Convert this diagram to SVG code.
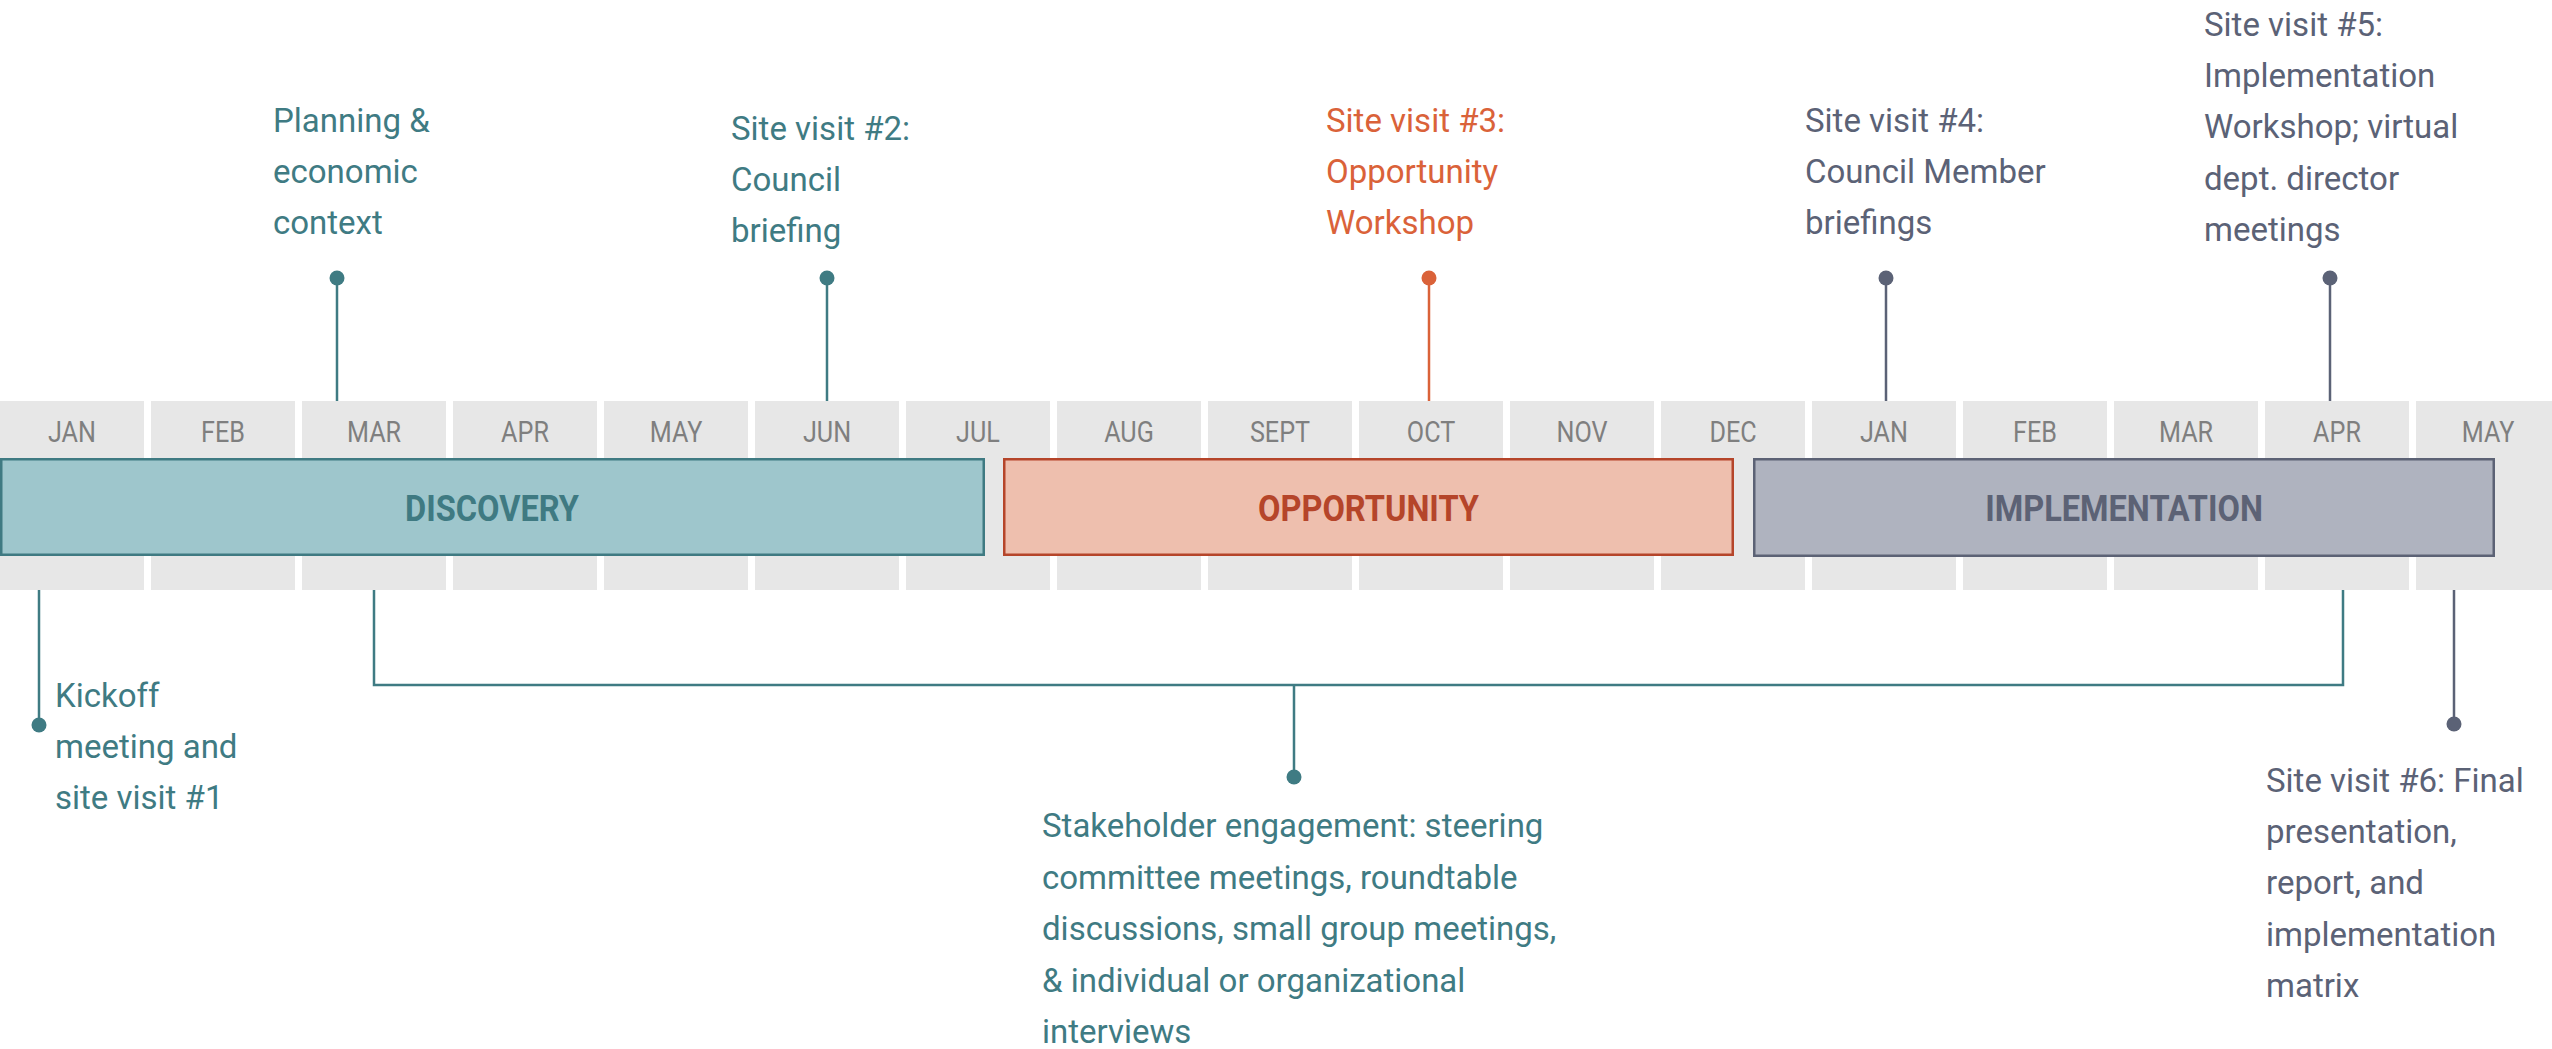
<svg xmlns="http://www.w3.org/2000/svg" width="2552" height="1049" viewBox="0 0 2552 1049">
<style>
.cell{fill:#E7E7E7}
.m{font-family:Roboto,"Liberation Sans",sans-serif;font-size:30px;font-weight:400;fill:#7F7F7F;text-anchor:middle}
.band{font-family:Roboto,"Liberation Sans",sans-serif;font-size:37px;font-weight:700;text-anchor:middle}
.t{font-family:Roboto,"Liberation Sans",sans-serif;font-size:33px}
.teal{fill:#3F7B83}
.orange{fill:#DA6239}
.slate{fill:#5B6276}
.ln{fill:none;stroke-width:2.5}
</style>
<rect width="2552" height="1049" fill="#FFFFFF"/>
<g id="months">
<rect class="cell" x="0" y="401" width="144" height="189"/>
<rect class="cell" x="151" y="401" width="144" height="189"/>
<rect class="cell" x="302" y="401" width="144" height="189"/>
<rect class="cell" x="453" y="401" width="144" height="189"/>
<rect class="cell" x="604" y="401" width="144" height="189"/>
<rect class="cell" x="755" y="401" width="144" height="189"/>
<rect class="cell" x="906" y="401" width="144" height="189"/>
<rect class="cell" x="1057" y="401" width="144" height="189"/>
<rect class="cell" x="1208" y="401" width="144" height="189"/>
<rect class="cell" x="1359" y="401" width="144" height="189"/>
<rect class="cell" x="1510" y="401" width="144" height="189"/>
<rect class="cell" x="1661" y="401" width="144" height="189"/>
<rect class="cell" x="1812" y="401" width="144" height="189"/>
<rect class="cell" x="1963" y="401" width="144" height="189"/>
<rect class="cell" x="2114" y="401" width="144" height="189"/>
<rect class="cell" x="2265" y="401" width="144" height="189"/>
<rect class="cell" x="2416" y="401" width="144" height="189"/>
<text class="m" transform="translate(72,442) scale(0.84,1)">JAN</text>
<text class="m" transform="translate(223,442) scale(0.84,1)">FEB</text>
<text class="m" transform="translate(374,442) scale(0.84,1)">MAR</text>
<text class="m" transform="translate(525,442) scale(0.84,1)">APR</text>
<text class="m" transform="translate(676,442) scale(0.84,1)">MAY</text>
<text class="m" transform="translate(827,442) scale(0.84,1)">JUN</text>
<text class="m" transform="translate(978,442) scale(0.84,1)">JUL</text>
<text class="m" transform="translate(1129,442) scale(0.84,1)">AUG</text>
<text class="m" transform="translate(1280,442) scale(0.84,1)">SEPT</text>
<text class="m" transform="translate(1431,442) scale(0.84,1)">OCT</text>
<text class="m" transform="translate(1582,442) scale(0.84,1)">NOV</text>
<text class="m" transform="translate(1733,442) scale(0.84,1)">DEC</text>
<text class="m" transform="translate(1884,442) scale(0.84,1)">JAN</text>
<text class="m" transform="translate(2035,442) scale(0.84,1)">FEB</text>
<text class="m" transform="translate(2186,442) scale(0.84,1)">MAR</text>
<text class="m" transform="translate(2337,442) scale(0.84,1)">APR</text>
<text class="m" transform="translate(2488,442) scale(0.84,1)">MAY</text>
</g>
<g id="discovery">
<rect x="1.25" y="459.25" width="982.5" height="95.5" fill="#9EC6CC" stroke="#3F7A82" stroke-width="2.5"/>
<text class="band" fill="#3F7A82" transform="translate(492,521) scale(0.88,1)">DISCOVERY</text>
</g>
<g id="opportunity">
<rect x="1004.25" y="459.25" width="728.5" height="95.5" fill="#EEBFAE" stroke="#B5452A" stroke-width="2.5"/>
<text class="band" fill="#B5452A" transform="translate(1368.5,521) scale(0.88,1)">OPPORTUNITY</text>
</g>
<g id="implementation">
<rect x="1754.25" y="459.25" width="739.5" height="96.5" fill="#AFB3BF" stroke="#5C6275" stroke-width="2.5"/>
<text class="band" fill="#5C6275" transform="translate(2124,521) scale(0.88,1)">IMPLEMENTATION</text>
</g>
<g id="connectors">
<line class="ln" stroke="#3F7B83" x1="337" y1="278" x2="337" y2="401"/>
<line class="ln" stroke="#3F7B83" x1="827" y1="278" x2="827" y2="401"/>
<line class="ln" stroke="#DA6239" x1="1429" y1="278" x2="1429" y2="401"/>
<line class="ln" stroke="#5B6276" x1="1886" y1="278" x2="1886" y2="401"/>
<line class="ln" stroke="#5B6276" x1="2330" y1="278" x2="2330" y2="401"/>
<line class="ln" stroke="#3F7B83" x1="39" y1="590" x2="39" y2="725"/>
<path class="ln" stroke="#3F7B83" d="M374 590 V685 H2343 V590 M1294 685 V777"/>
<line class="ln" stroke="#5B6276" x1="2454" y1="590" x2="2454" y2="724"/>
</g>
<g id="planning">
<circle class="teal" cx="337" cy="278" r="7.5"/>
<text class="t teal" x="273"><tspan x="273" y="132">Planning &amp;</tspan><tspan x="273" y="183">economic</tspan><tspan x="273" y="234">context</tspan></text>
</g>
<g id="site-visit-2">
<circle class="teal" cx="827" cy="278" r="7.5"/>
<text class="t teal"><tspan x="731" y="140">Site visit #2:</tspan><tspan x="731" y="191">Council</tspan><tspan x="731" y="242">briefing</tspan></text>
</g>
<g id="site-visit-3">
<circle class="orange" cx="1429" cy="278" r="7.5"/>
<text class="t orange"><tspan x="1326" y="132">Site visit #3:</tspan><tspan x="1326" y="183">Opportunity</tspan><tspan x="1326" y="234">Workshop</tspan></text>
</g>
<g id="site-visit-4">
<circle class="slate" cx="1886" cy="278" r="7.5"/>
<text class="t slate"><tspan x="1805" y="132">Site visit #4:</tspan><tspan x="1805" y="183">Council Member</tspan><tspan x="1805" y="234">briefings</tspan></text>
</g>
<g id="site-visit-5">
<circle class="slate" cx="2330" cy="278" r="7.5"/>
<text class="t slate"><tspan x="2204" y="36">Site visit #5:</tspan><tspan x="2204" y="87">Implementation</tspan><tspan x="2204" y="138">Workshop; virtual</tspan><tspan x="2204" y="190">dept. director</tspan><tspan x="2204" y="241">meetings</tspan></text>
</g>
<g id="kickoff">
<circle class="teal" cx="39" cy="725" r="7.5"/>
<text class="t teal"><tspan x="55" y="707">Kickoff</tspan><tspan x="55" y="758">meeting and</tspan><tspan x="55" y="809">site visit #1</tspan></text>
</g>
<g id="stakeholder">
<circle class="teal" cx="1294" cy="777" r="7.5"/>
<text class="t teal"><tspan x="1042" y="837">Stakeholder engagement: steering</tspan><tspan x="1042" y="889">committee meetings, roundtable</tspan><tspan x="1042" y="940">discussions, small group meetings,</tspan><tspan x="1042" y="992">&amp; individual or organizational</tspan><tspan x="1042" y="1043">interviews</tspan></text>
</g>
<g id="site-visit-6">
<circle class="slate" cx="2454" cy="724" r="7.5"/>
<text class="t slate"><tspan x="2266" y="792">Site visit #6: Final</tspan><tspan x="2266" y="843">presentation,</tspan><tspan x="2266" y="894">report, and</tspan><tspan x="2266" y="946">implementation</tspan><tspan x="2266" y="997">matrix</tspan></text>
</g>
</svg>
